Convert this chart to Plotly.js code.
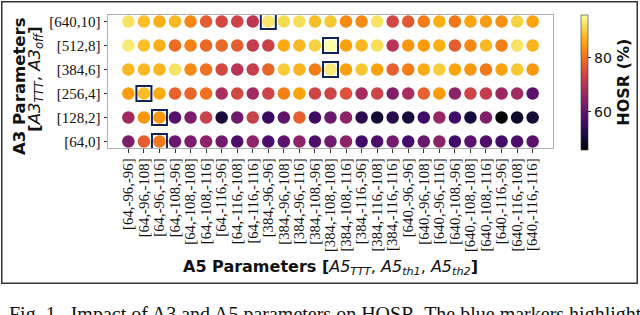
<!DOCTYPE html>
<html>
<head>
<meta charset="utf-8">
<script src="https://cdn.plot.ly/plotly-3.0.1.min.js"></script>
<style>
  html, body { margin: 0; padding: 0; background: #ffffff; }
  #chart { width: 640px; height: 315px; }
</style>
</head>
<body>
<div id="chart"></div>
<script>
// A5 parameter combinations [A5_TTT, A5_th1, A5_th2]
const a5Labels = [
  "[64,-96,-96]", "[64,-96,-108]", "[64,-96,-116]",
  "[64,-108,-96]", "[64,-108,-108]", "[64,-108,-116]",
  "[64,-116,-96]", "[64,-116,-108]", "[64,-116,-116]",
  "[384,-96,-96]", "[384,-96,-108]", "[384,-96,-116]",
  "[384,-108,-96]", "[384,-108,-108]", "[384,-108,-116]",
  "[384,-116,-96]", "[384,-116,-108]", "[384,-116,-116]",
  "[640,-96,-96]", "[640,-96,-108]", "[640,-96,-116]",
  "[640,-108,-96]", "[640,-108,-108]", "[640,-108,-116]",
  "[640,-116,-96]", "[640,-116,-108]", "[640,-116,-116]"
];

// A3 parameter combinations [A3_TTT, A3_off] (bottom to top)
const a3Labels = ["[64,0]", "[128,2]", "[256,4]", "[384,6]", "[512,8]", "[640,10]"];

// HOSR (%) per A3 row, one value per A5 column (estimated from the figure)
const hosr_64_0 = [63, 77.5, 81, 61, 63, 65, 62, 57.5, 65.5, 57, 59, 65.5, 57.5, 62, 65, 56, 57, 62, 56.5, 61, 65, 56, 59, 57.5, 56.5, 57, 59];
const hosr_128_2 = [67.5, 84.5, 84.5, 58.5, 63, 73, 51.5, 62, 73, 55, 59.5, 78, 55.5, 61, 65, 53.5, 50.5, 53, 51.5, 56, 66.5, 56, 51.5, 63.5, 46, 49.5, 51];
const hosr_256_4 = [85, 88.5, 86.5, 78, 78.5, 80, 68.5, 74.5, 67.5, 73.5, 82, 86, 73.5, 73.5, 76, 68, 73.5, 63.5, 68.5, 78, 85, 65, 73.5, 72, 67, 67.5, 59];
const hosr_384_6 = [88, 88, 87.5, 92.5, 83, 80, 74.5, 70.5, 72.5, 78.5, 90, 87.5, 81.5, 93.5, 85.5, 89.5, 85.5, 78, 81.5, 86.5, 90, 86, 84.5, 81, 86, 89.5, 84.5];
const hosr_512_8 = [93.5, 88.5, 87, 79.5, 82, 79, 79, 77.5, 72, 73, 86.5, 88, 90.5, 96, 85.5, 88, 92, 70.5, 84.5, 85, 87, 77.5, 82.5, 88, 82, 92.5, 87.5];
const hosr_640_10 = [92.5, 88.5, 87, 88, 82.5, 77.5, 74.5, 73.5, 71, 93, 91.5, 92, 88.5, 89.5, 83, 83, 92.5, 74, 77, 81.5, 87, 81, 86, 85, 84, 90.5, 85.5];

// Highlighted (best) configurations per A3 row
const highlightX = ["[64,-96,-116]", "[64,-96,-116]", "[64,-96,-108]", "[384,-108,-108]", "[384,-108,-108]", "[384,-96,-96]"];
const highlightY = ["[64,0]", "[128,2]", "[256,4]", "[384,6]", "[512,8]", "[640,10]"];

const colorbarTicks = [60, 80];

const rows = [hosr_64_0, hosr_128_2, hosr_256_4, hosr_384_6, hosr_512_8, hosr_640_10];
const xs = [], ys = [], zs = [];
rows.forEach((vals, r) => {
  vals.forEach((v, c) => { xs.push(a5Labels[c]); ys.push(a3Labels[r]); zs.push(v); });
});

const inferno = [
  [0.0, "#000004"], [0.1, "#160b39"], [0.2, "#420a68"], [0.3, "#6a176e"],
  [0.4, "#932667"], [0.5, "#bc3754"], [0.6, "#dd513a"], [0.7, "#f37819"],
  [0.8, "#fca50a"], [0.9, "#f6d746"], [1.0, "#fcffa4"]
];

const serif = "Liberation Serif, Times New Roman, serif";
const sans = "DejaVu Sans, sans-serif";

const traces = [
  {
    type: "scatter", mode: "markers", x: xs, y: ys,
    marker: {
      size: 12.5, color: zs, colorscale: inferno, cmin: 46, cmax: 96,
      line: { width: 0 },
      colorbar: {
        x: 1.062, xanchor: "left", xpad: 0,
        y: 0.495, yanchor: "middle", ypad: 0,
        thickness: 7, thicknessmode: "pixels",
        len: 135, lenmode: "pixels",
        outlinewidth: 0.6, outlinecolor: "#333",
        tickvals: colorbarTicks, ticks: "outside", ticklen: 3.5, tickwidth: 1, tickcolor: "#222",
        tickfont: { family: sans, size: 14, color: "#111" },
        title: { text: "<b>HOSR (%)</b>", side: "right", font: { family: sans, size: 16, color: "#111" } }
      }
    },
    hoverinfo: "skip", showlegend: false
  },
  {
    type: "scatter", mode: "markers", x: highlightX, y: highlightY,
    marker: { symbol: "square-open", size: 15, color: "#10235a", line: { width: 2, color: "#10235a" } },
    hoverinfo: "skip", showlegend: false
  }
];

const layout = {
  width: 640, height: 315,
  margin: { l: 108, r: 87, t: 15, b: 167, pad: 0, autoexpand: false },
  paper_bgcolor: "#ffffff", plot_bgcolor: "#ffffff",
  showlegend: false,
  xaxis: {
    type: "category", categoryorder: "array", categoryarray: a5Labels,
    tickmode: "array", tickvals: a5Labels, ticktext: a5Labels,
    range: [-1.31, 27.31], automargin: false,
    showgrid: false, zeroline: false,
    showline: true, mirror: true, linecolor: "#b0b0b0", linewidth: 1,
    ticks: "outside", ticklen: 3.5, tickwidth: 1, tickcolor: "#333",
    tickangle: -90, tickfont: { family: serif, size: 14.8, color: "#111" }
  },
  yaxis: {
    type: "category", categoryorder: "array", categoryarray: a3Labels,
    tickmode: "array", tickvals: a3Labels, ticktext: a3Labels,
    range: [-0.27, 5.27], automargin: false,
    showgrid: false, zeroline: false,
    showline: true, mirror: true, linecolor: "#b0b0b0", linewidth: 1,
    ticks: "outside", ticklen: 3.5, tickwidth: 1, tickcolor: "#333",
    tickfont: { family: serif, size: 15, color: "#111" }
  },
  annotations: [
    // outer figure frame
    { xref: "paper", yref: "paper", x: 0.4742, y: 0.045, xanchor: "center", yanchor: "middle",
      text: " ", showarrow: false, width: 634, height: 280, borderpad: 0,
      bordercolor: "#333", borderwidth: 1.5, bgcolor: "rgba(0,0,0,0)" },
    { xref: "paper", yref: "paper", x: 0.499, y: -0.895, xanchor: "center", yanchor: "middle",
      text: "<b>A5 Parameters [</b><i>A5</i><sub><i>TTT</i></sub>, <i>A5</i><sub><i>th1</i></sub>, <i>A5</i><sub><i>th2</i></sub><b>]</b>",
      showarrow: false, font: { family: sans, size: 16, color: "#111" } },
    { xref: "paper", yref: "paper", x: -0.2, y: 0.466, xanchor: "center", yanchor: "middle", textangle: -90,
      text: "<b>A3 Parameters</b>",
      showarrow: false, font: { family: sans, size: 16.5, color: "#111" } },
    { xref: "paper", yref: "paper", x: -0.162, y: 0.519, xanchor: "center", yanchor: "middle", textangle: -90,
      text: "<b>[</b><i>A3</i><sub><i>TTT</i></sub>, <i>A3</i><sub><i>off</i></sub><b>]</b>",
      showarrow: false, font: { family: sans, size: 16.5, color: "#111" } },
    { xref: "paper", yref: "paper", x: -0.227, y: -1.15, xanchor: "left", yanchor: "top",
      text: "Fig. 1.  Impact of A3 and A5 parameters on HOSR. The blue markers highlight",
      showarrow: false, font: { family: serif, size: 20, color: "#111" } }
  ]
};

Plotly.newPlot("chart", traces, layout, { displayModeBar: false, staticPlot: true });
</script>
</body>
</html>
